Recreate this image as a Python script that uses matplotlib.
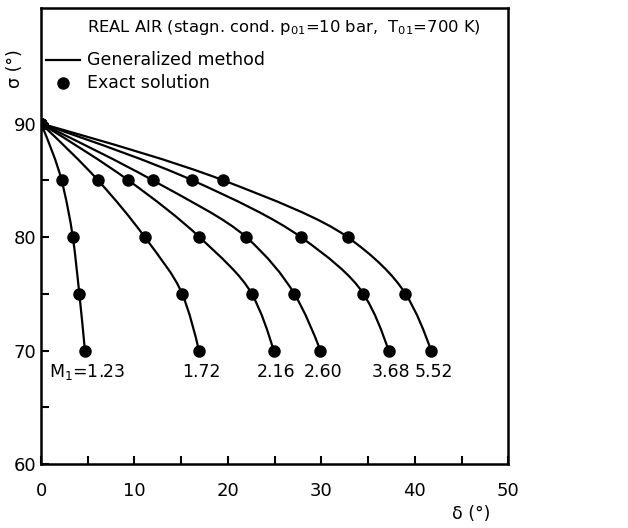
import matplotlib.pyplot as plt
from matplotlib.path import Path
from matplotlib.patches import PathPatch

# sigma levels where the exact solution was evaluated
SIGMA = [90, 85, 80, 75, 70]

# deflection angle delta (deg) for each upstream Mach number
MACH_LABELS = ['M$_1$=1.23', '1.72', '2.16', '2.60', '3.68', '5.52']
DELTA_123 = [0, 2.2, 3.4, 4.1, 4.7]
DELTA_172 = [0, 6.1, 11.1, 15.1, 16.9]
DELTA_216 = [0, 9.35, 16.95, 22.55, 24.9]
DELTA_260 = [0, 11.95, 21.95, 27.1, 29.9]
DELTA_368 = [0, 16.2, 27.8, 34.5, 37.2]
DELTA_552 = [0, 19.5, 32.8, 39.0, 41.75]
ALL_DELTA = [DELTA_123, DELTA_172, DELTA_216, DELTA_260, DELTA_368, DELTA_552]


def smooth_path(xs, ys):
    # monotone cubic (delta as a function of sigma) drawn as bezier segments
    n = len(xs)
    d = [(xs[i + 1] - xs[i]) / (ys[i + 1] - ys[i]) for i in range(n - 1)]
    m = [0.0] * n
    for i in range(1, n - 1):
        if d[i - 1] * d[i] > 0:
            m[i] = 2 / (1 / d[i - 1] + 1 / d[i])
    m[0] = (3 * d[0] - m[1]) / 2
    m[-1] = (3 * d[-1] - m[-2]) / 2
    verts = [(xs[0], ys[0])]
    codes = [Path.MOVETO]
    for i in range(n - 1):
        h = ys[i + 1] - ys[i]
        verts += [(xs[i] + m[i] * h / 3, ys[i] + h / 3),
                  (xs[i + 1] - m[i + 1] * h / 3, ys[i + 1] - h / 3),
                  (xs[i + 1], ys[i + 1])]
        codes += [Path.CURVE4] * 3
    return Path(verts, codes)


plt.rcParams['font.family'] = ['DejaVu Sans']
fig = plt.figure(figsize=(6.28, 5.28), dpi=100)
ax = fig.add_axes([0.0653, 0.1212, 0.744, 0.864])

for delta in ALL_DELTA:
    ax.add_patch(PathPatch(smooth_path(delta, SIGMA), fill=False,
                           edgecolor='black', lw=1.6, transform=ax.transData))
    ax.plot(delta, SIGMA, 'o', color='black', ms=8)

for label, delta in zip(MACH_LABELS, ALL_DELTA):
    xt = delta[-1] + 0.3
    ha = 'center'
    if label.startswith('M'):
        xt = 0.85
        ha = 'left'
    ax.text(xt, 68.1, label, ha=ha, va='center', fontsize=12.5)

ax.set_xlim(0, 50)
ax.set_ylim(60, 100.2)
ax.set_xticks(range(0, 51, 10))
ax.set_xticks(range(5, 50, 10), minor=True)
ax.set_yticks(range(60, 91, 10))
ax.set_yticks(range(65, 90, 10), minor=True)
ax.tick_params(which='both', direction='in', length=6, width=1.5,
               labelsize=13, top=False, right=False)
ax.tick_params(axis='x', pad=13)
for s in ax.spines.values():
    s.set_linewidth(1.8)

ax.text(4.9, 98.5, 'REAL AIR (stagn. cond. p$_{01}$=10 bar,  T$_{01}$=700 K)',
        fontsize=11.8, va='center')
ax.plot([0.5, 4.2], [95.6, 95.6], color='black', lw=1.6)
ax.text(4.9, 95.6, 'Generalized method', fontsize=12.5, va='center')
ax.plot([2.35], [93.6], 'o', color='black', ms=8)
ax.text(4.9, 93.6, 'Exact solution', fontsize=12.5, va='center')

fig.text(0.024, 0.87, 'σ (°)', rotation=90, fontsize=12.5, ha='center', va='center')
fig.text(0.75, 0.026, 'δ (°)', fontsize=12.5, ha='center', va='center')

fig.savefig('out.png', dpi=100)
